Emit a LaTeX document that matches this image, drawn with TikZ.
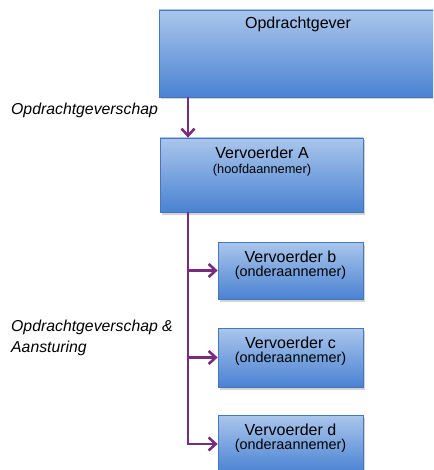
\documentclass[tikz,border=0pt]{standalone}
\usepackage{fontspec}
\setmainfont{Liberation Sans}
\usetikzlibrary{arrows.meta,shadows}
\definecolor{boxtop}{HTML}{AAC6EC}
\definecolor{boxbot}{HTML}{4A82D2}
\definecolor{boxdraw}{HTML}{4677BE}
\definecolor{arr}{HTML}{7A2B80}
\begin{document}
\begin{tikzpicture}[x=1pt,y=-1pt,
  box/.style={draw=boxdraw, line width=0.8pt, top color=boxtop, bottom color=boxbot,
    drop shadow={shadow xshift=2pt, shadow yshift=-2.5pt, opacity=0.35}, inner sep=0pt},
  conn/.style={draw=arr, line width=2.8pt, -{Straight Barb[length=7pt,width=13pt,line width=2.6pt]}},
  spineline/.style={draw=arr, line width=2.8pt},
  big/.style={font=\fontsize{16}{18}\selectfont, inner sep=0pt},
  small/.style={font=\fontsize{12.8}{15}\selectfont, inner sep=0pt},
  smallb/.style={font=\fontsize{14.4}{17}\selectfont, inner sep=0pt},
  lab/.style={font=\itshape\fontsize{15.8}{21}\selectfont, inner sep=0pt, anchor=west, align=left}]
\useasboundingbox (0,0) rectangle (433,470);
\begin{scope}
\clip (0,0) rectangle (433,470);
\node[box, minimum width=286pt, minimum height=87pt] (og) at (302,53.5) {};
\node[box, minimum width=203pt, minimum height=74pt] (va) at (261.5,175) {};
\node[box, minimum width=145pt, minimum height=57pt] (vb) at (290.5,270.5) {};
\node[box, minimum width=145pt, minimum height=59pt] (vc) at (290.5,357.5) {};
\node[box, minimum width=145pt, minimum height=58pt] (vd) at (290.5,444) {};
\end{scope}
\node[big] (tog) at (298,24) {Opdrachtgever};
\node[big] (ta1) at (262,153) {Vervoerder A};
\node[small] (ta2) at (262,170) {(hoofdaannemer)};
\node[big] (tb1) at (290.5,257) {Vervoerder b};
\node[smallb] (tb2) at (290.5,273) {(onderaannemer)};
\node[big] (tc1) at (290.5,343) {Vervoerder c};
\node[smallb] (tc2) at (290.5,359) {(onderaannemer)};
\node[big] (td1) at (290.5,430) {Vervoerder d};
\node[smallb] (td2) at (290.5,446) {(onderaannemer)};
\node[lab] (l1) at (11,110) {Opdrachtgeverschap};
\node[lab] (l2) at (11,337.5) {Opdrachtgeverschap \&\\Aansturing};
\coordinate (spine) at (188,0);
\draw[conn] (og.south -| spine) -- (va.north -| spine);
\draw[spineline] (va.south -| spine) -- (spine |- vd.west);
\draw[conn] ([xshift=-1.4pt]spine |- vd.west) -- (vd.west);
\draw[conn] ([xshift=-1.4pt]spine |- vb.west) -- (vb.west);
\draw[conn] ([xshift=-1.4pt]spine |- vc.west) -- (vc.west);
\end{tikzpicture}
\end{document}
